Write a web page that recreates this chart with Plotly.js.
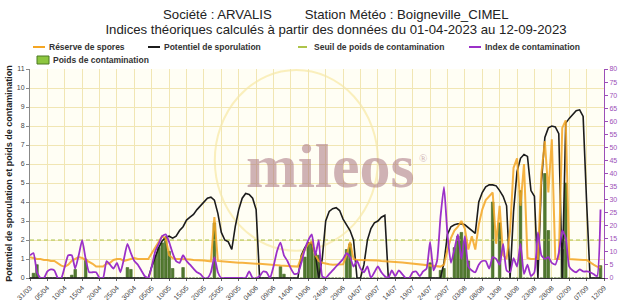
<!DOCTYPE html>
<html>
<head>
<meta charset="utf-8">
<script src="https://cdn.plot.ly/plotly-3.0.1.min.js"></script>
<style>html,body{margin:0;padding:0;background:#fff;}#chart{width:627px;height:300px;}</style>
</head>
<body>
<div id="chart"></div>
<script>
// Daily series, first value = 31/03/2023
const startDate = '2023-03-31';
const endDate = '2023-09-12';

// Potentiel de sporulation (left axis)
const potentiel = [
  0,0,0,0,0,0,0,0,0,0,
  0,0,0,0,0,0,0,0,0,0,
  0,0,0,0,0,0,0,0,0,0,
  0,0,0,0,0,0.6,1.1,1.6,1.95,2.15,
  2.2,2.1,2.2,2.5,2.7,3.05,3.2,3.35,3.6,3.8,
  4.05,4.2,4.25,4.1,3.4,2.4,2.0,1.9,1.5,2.7,
  3.6,4.2,4.45,4.4,4.2,3.6,0,0,0,0,
  0,0,0,0,0,0,0,0,1.2,1.6,
  1.85,1.8,1.3,0,1.0,3.0,3.5,3.65,3.7,3.55,
  3.1,2.8,2.5,2.0,0,0,0.7,2.0,2.6,2.9,
  3.0,3.2,3.3,0,0,0,0,0,0,0,
  0,0,0,0,0,0,0,0,0,0.8,
  2.3,2.7,2.8,2.85,2.85,2.8,2.65,2.5,2.35,4.0,
  4.5,4.8,4.9,4.9,4.85,4.6,4.3,3.8,0,3.5,
  5.6,6.3,6.5,6.4,4.6,4.3,0,5.0,7.4,7.9,
  8.0,7.95,7.6,0,8.15,8.4,8.6,8.8,8.85,8.5,
  4.0,0,0,0,0
];

// Réserve de spores (left axis)
const reserve = [
  1.1,1.05,1.0,1.0,0.95,0.95,0.9,0.9,0.75,0.65,
  0.6,0.7,0.9,1.0,1.1,1.05,0.95,0.85,0.75,0.6,
  0.6,0.6,0.75,0.8,0.95,1.0,1.0,0.9,0.95,1.0,
  1.05,1.0,1.0,1.0,1.0,1.3,1.6,1.9,2.2,2.1,
  1.2,1.05,1.0,1.0,1.0,0.98,0.97,0.95,0.95,0.93,
  0.92,0.9,0.88,3.2,0.9,0.88,0.86,0.85,0.83,0.82,
  0.8,0.8,0.78,0.77,0.76,0.75,0.75,0.73,0.72,0.7,
  0.7,0.68,0.66,0.65,0.63,0.62,0.6,0.6,1.1,1.5,
  1.8,1.9,1.2,0.9,0.8,0.75,0.72,0.7,0.7,0.7,
  0.72,1.2,1.9,1.0,0.95,0.95,0.95,0.95,0.95,0.93,
  0.92,0.9,0.88,0.86,0.85,0.84,0.83,0.82,0.8,0.78,
  0.76,0.74,0.72,0.7,0.68,0.66,0.64,0.62,0.6,0.7,
  1.5,2.1,2.5,2.7,3.0,2.6,1.5,2.2,1.5,2.8,
  3.6,4.1,4.3,4.5,1.8,3.8,1.2,1.0,2.5,5.8,
  6.3,3.8,6.0,1.05,1.0,1.0,1.0,5.5,7.2,4.5,
  7.3,1.0,1.0,7.9,8.3,1.0,0.98,0.97,0.96,0.95,
  0.95,0.8,0.7,0.6,0.55
];

// Index de contamination (right axis)
const indexContam = [
  8.7,9.5,2.2,0,0,2.5,3.3,2.9,0,0,
  4.4,8.7,8.7,3.6,8.7,14.5,7.3,2.2,2.2,2.2,
  0,0,6.5,5.1,3.6,5.8,2.2,7.3,13.1,9.5,
  6.5,5.1,2.9,0.7,0,4.4,10.2,13.1,16,16.7,
  13.8,9.5,6.5,5.8,8.7,6.5,5.1,3.6,2.2,1.5,
  0,0,2.2,8,2.2,0,0,0,0,0,
  0,0,0,2.5,0,0,0.7,2.5,2.2,0,
  4.4,10.2,13.5,8.7,6.5,3.6,1.5,1.8,5.8,10.9,
  14.5,16.7,8.7,14.5,0.7,0,1.5,2.9,4.4,5.8,
  7.3,9.5,8,4.4,6.5,3.6,2.2,4.4,0,2.2,
  4.4,2.2,0.7,0,2.9,0.7,2.9,1.5,0,0,
  2.2,2.5,0.7,2.5,3.6,13.8,2.9,6.5,23.3,34.9,
  16.7,5.8,10.9,16.7,7.3,16,4.4,2.9,2.2,5.1,
  6.5,6.5,3.6,8,7.3,5.1,13.1,2.9,2.2,7.6,
  4.4,13.1,1.5,5.1,0.7,2.2,17.5,8.7,7.3,8,
  5.8,5.1,9.5,18.2,15.3,4.4,2.9,2.2,3.3,2.5,
  2.5,2.2,1.5,0.7,26.2
];

// Poids de contamination (left axis, bars)
const poids = [
  0,0.25,0.7,0,0,0,0,0,0,0,
  0,0,0.15,0.45,0,0,1.0,0,0,0,
  0,0,0,0,0,0,0,0,0.55,0.45,
  0,0,0,0,0,0,1.2,1.6,1.85,2.1,
  1.4,0.5,0,0,0.55,0,0,0,0,0,
  0,0,0,2.9,0,0,0,0,0,0,
  0,0,0,0,0,0,0,0,0,0,
  0,0,0.6,0.2,0,0,0,0,0,1.1,
  1.8,1.9,1.3,1.2,0,0,0,0,0,0,
  0,1.5,1.8,0,0,0,0,0,0,0,
  0,0,0,0,0,0,0,0,0,0,
  0,0,0,0,0,0.8,0,0,0.4,0.5,
  0,0,1.6,2.2,2.4,1.9,0.9,0,0,0,
  0,0,0,4.0,0,2.9,0,0,0,0,
  0,4.6,0,0,0,0,0,0,5.5,2.5,
  0,0,0,1.5,5.0,0,0,0,0,0,
  0,0,0,0,0.65
];

// Seuil de poids de contamination
const seuil = 2;

// Legend labels
const legendLabels = ['Réserve de spores', 'Potentiel de sporulation', 'Seuil de poids de contamination', 'Index de contamination', 'Poids de contamination'];

const colOrange = '#f5a623', colBlack = '#1c1c1c', colSeuil = '#aec44a', colPurple = '#9b30c8', colGreen = '#527a30', colGreenEdge = '#8dc63f';

const dayMs = 86400000;
const t0 = Date.parse(startDate + 'T00:00:00Z');
const dates = potentiel.map((_, i) => new Date(t0 + i * dayMs).toISOString().slice(0, 10));

const traces = [
  {
    type: 'bar', name: legendLabels[4], x: dates, y: poids,
    width: 0.75 * dayMs,
    marker: {color: colGreen, line: {color: '#3f6420', width: 0.6}},
    yaxis: 'y'
  },
  {
    type: 'scatter', mode: 'lines', name: legendLabels[2],
    x: [dates[0], endDate], y: [seuil, seuil],
    line: {color: colSeuil, width: 1.2, dash: '4px,3px'}, yaxis: 'y'
  },
  {
    type: 'scatter', mode: 'lines', name: legendLabels[3], x: dates, y: indexContam,
    line: {color: colPurple, width: 1.8, shape: 'spline', smoothing: 0.5}, yaxis: 'y2'
  },
  {
    type: 'scatter', mode: 'lines', name: legendLabels[1], x: dates, y: potentiel,
    line: {color: colBlack, width: 1.6}, yaxis: 'y'
  },
  {
    type: 'scatter', mode: 'lines', name: legendLabels[0], x: dates, y: reserve,
    line: {color: colOrange, width: 2}, opacity: 0.85, yaxis: 'y'
  }
];

// plot area in pixels: x 30..604, y 69..278
const PL = 30, PR = 604, PT = 69, PB = 278;
const px = v => (v - PL) / (PR - PL);
const py = v => (PB - v) / (PB - PT);

// manual legend (paper coords from pixel positions)
const legRows = [47, 60];
const legItems = [
  {label: legendLabels[0], kind: 'line', color: colOrange, x: 33, row: 0},
  {label: legendLabels[1], kind: 'line', color: colBlack, x: 148, row: 0},
  {label: legendLabels[2], kind: 'dash', color: colSeuil, x: 298, row: 0},
  {label: legendLabels[3], kind: 'line', color: colPurple, x: 469, row: 0},
  {label: legendLabels[4], kind: 'box', color: colGreenEdge, x: 37, row: 1}
];
const shapes = [
  {type: 'circle', xref: 'paper', yref: 'paper', layer: 'below',
   x0: 0.322, x1: 0.606, y0: 0.13, y1: 0.995,
   line: {color: 'rgba(244,222,120,0.45)', width: 2}}
];
const annotations = [];
legItems.forEach(it => {
  const yc = legRows[it.row];
  if (it.kind === 'box') {
    shapes.push({type: 'rect', xref: 'paper', yref: 'paper', x0: px(it.x), x1: px(it.x + 12),
      y0: py(yc + 4), y1: py(yc - 4), fillcolor: it.color, line: {color: '#4d7a25', width: 1}});
  } else {
    shapes.push({type: 'line', xref: 'paper', yref: 'paper', x0: px(it.x), x1: px(it.x + 12),
      y0: py(yc), y1: py(yc), line: {color: it.color, width: 2, dash: it.kind === 'dash' ? 'dash' : 'solid'}});
  }
  annotations.push({text: it.label, xref: 'paper', yref: 'paper', x: px(it.x + 14), y: py(yc),
    xanchor: 'left', yanchor: 'middle', showarrow: false,
    font: {size: 8.5, color: '#333', weight: 'bold'}});
});
// title first line
annotations.push({text: 'Société : ARVALIS&nbsp;&nbsp;&nbsp;&nbsp;&nbsp;&nbsp;&nbsp;&nbsp;&nbsp;Station Météo : Boigneville_CIMEL',
  xref: 'paper', yref: 'paper', x: px(336), y: py(14), xanchor: 'center', yanchor: 'middle', showarrow: false,
  font: {family: 'Liberation Sans, Arial, sans-serif', size: 13.2, color: '#222'}});
// watermark
annotations.push({text: 'mileos', xref: 'paper', yref: 'paper', x: px(330), y: py(166),
  xanchor: 'center', yanchor: 'middle', showarrow: false,
  font: {family: 'Liberation Serif, Times New Roman, serif', size: 62, color: 'rgba(168,115,128,0.55)', weight: 'bold'}});
annotations.push({text: '®', xref: 'paper', yref: 'paper', x: px(423), y: py(158),
  xanchor: 'center', yanchor: 'middle', showarrow: false,
  font: {family: 'Liberation Serif, Times New Roman, serif', size: 11, color: 'rgba(168,115,128,0.55)'}});

const gridColor = '#f1e6b3';
const layout = {
  width: 627, height: 300,
  margin: {l: 30, r: 23, t: 69, b: 22, pad: 0},
  paper_bgcolor: '#ffffff',
  plot_bgcolor: '#fffef4',
  font: {family: 'Liberation Sans, Arial, sans-serif', color: '#333'},
  title: {
    text: 'Indices théoriques calculés à partir des données du 01-04-2023 au 12-09-2023',
    font: {family: 'Liberation Sans, Arial, sans-serif', size: 13.2, color: '#222'},
    xref: 'container', x: 336 / 627, xanchor: 'center',
    yref: 'container', y: 1 - 29 / 300, yanchor: 'middle'
  },
  showlegend: false,
  xaxis: {
    type: 'date',
    range: [startDate, endDate],
    tick0: startDate, dtick: 5 * dayMs, tickformat: '%d/%m',
    tickangle: -45, tickfont: {size: 7, color: '#444'},
    showgrid: true, gridcolor: gridColor, gridwidth: 1,
    showline: true, linecolor: '#333', linewidth: 1,
    ticks: 'outside', ticklen: 2, tickcolor: '#666',
    zeroline: false, fixedrange: true
  },
  yaxis: {
    range: [0, 11], dtick: 1, tick0: 0,
    tickfont: {size: 7, color: '#444'},
    showgrid: true, gridcolor: gridColor, gridwidth: 1,
    showline: true, linecolor: '#888', linewidth: 1,
    ticks: 'outside', ticklen: 3, tickcolor: '#888',
    zeroline: false,
    title: {text: 'Potentiel de sporulation et poids de contamination',
            font: {size: 9, color: '#222', weight: 'bold'}, standoff: 2}
  },
  yaxis2: {
    overlaying: 'y', side: 'right', range: [0, 80], dtick: 5, tick0: 0,
    tickfont: {size: 7, color: '#9c4fb8'},
    showgrid: false, showline: true, linecolor: '#9c4fb8', linewidth: 1,
    ticks: 'outside', ticklen: 3, tickcolor: '#9c4fb8', zeroline: false
  },
  bargap: 0,
  shapes: shapes,
  annotations: annotations
};

Plotly.newPlot('chart', traces, layout, {displayModeBar: false, staticPlot: true});
</script>
</body>
</html>
